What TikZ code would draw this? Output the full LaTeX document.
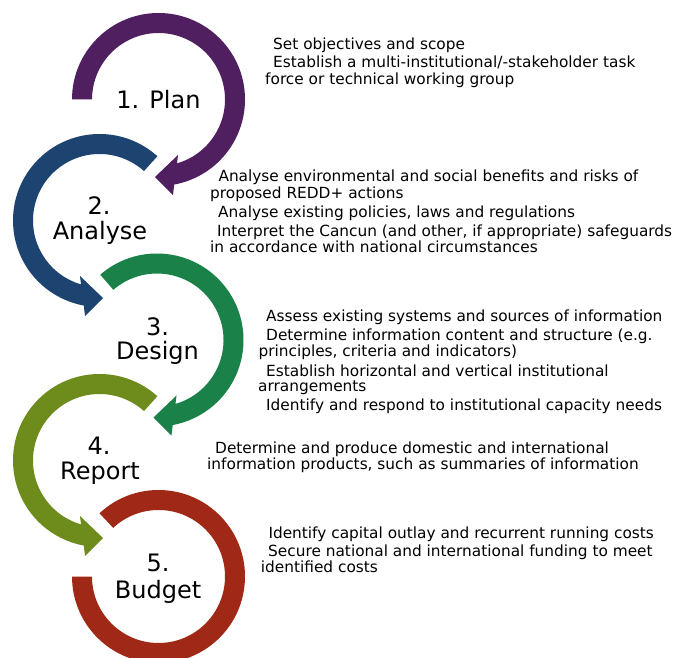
\documentclass[tikz,border=0pt]{standalone}
\usepackage{fontspec}
\setmainfont{DejaVu Sans}
\definecolor{cplan}{HTML}{4F1F60}
\definecolor{canal}{HTML}{1D4370}
\definecolor{cdes}{HTML}{1A8249}
\definecolor{crep}{HTML}{6E8C1C}
\definecolor{cbud}{HTML}{A02816}
\begin{document}
\begin{tikzpicture}[x=1pt,y=1pt,
  body/.style={anchor=base west,inner sep=0pt,font=\fontsize{15.35}{17}\selectfont},
  steplabel/.style={anchor=base,inner sep=0pt,font=\fontsize{24}{26}\selectfont}]
\useasboundingbox (0,0) rectangle (677,657);
\clip (0,0) rectangle (677,657);
\fill[white] (0,0) rectangle (677,657);
% ring 1 (clockwise)
\fill[cplan,shift={(158.5,557.5)}] (180:86.5) arc[start angle=180,end angle=-79.5,radius=86.5]
  -- (-81.4:96.6) -- (-92.6:77.6) -- (-70.6:58.8) -- (-73.9:66.5)
  arc[start angle=-73.9,end angle=180,radius=66.5] -- cycle;
% ring 2 (counter-clockwise)
\fill[canal,shift={(99.5,436.5)}] (48:86.5) arc[start angle=48,end angle=259.5,radius=86.5]
  -- (261.4:96.6) -- (272.6:77.6) -- (250.6:58.8) -- (253.9:66.5)
  arc[start angle=253.9,end angle=48,radius=66.5] -- cycle;
% ring 3 (clockwise)
\fill[cdes,shift={(157,317)}] (131:86.5) arc[start angle=131,end angle=-79.5,radius=86.5]
  -- (-81.4:96.6) -- (-92.6:77.6) -- (-70.6:58.8) -- (-73.9:66.5)
  arc[start angle=-73.9,end angle=131,radius=66.5] -- cycle;
% ring 4 (counter-clockwise)
\fill[crep,shift={(99.5,196.5)}] (48:86.5) arc[start angle=48,end angle=259.5,radius=86.5]
  -- (261.4:96.6) -- (272.6:77.6) -- (250.6:58.8) -- (253.9:66.5)
  arc[start angle=253.9,end angle=48,radius=66.5] -- cycle;
% ring 5
\fill[cbud,shift={(158.5,80.5)}] (133:86.5) arc[start angle=133,end angle=-180,radius=86.5]
  -- (180:66.5) arc[start angle=-180,end angle=133,radius=66.5] -- cycle;
% step labels
\node[steplabel] (l1) at (158.5,548.7) {1. Plan};
\node[steplabel] (l2a) at (99,442) {2.};
\node[steplabel] (l2b) at (100,417) {Analyse};
\node[steplabel] (l3a) at (157.5,322) {3.};
\node[steplabel] (l3b) at (157.5,297.7) {Design};
\node[steplabel] (l4a) at (99,203) {4.};
\node[steplabel] (l4b) at (100,177.7) {Report};
\node[steplabel] (l5a) at (158,85.3) {5.};
\node[steplabel] (l5b) at (158,58.7) {Budget};
% texts
\node[body] (t1a) at (273,607.7) {Set objectives and scope};
\node[body] (t1b) at (273,589.3) {Establish a multi-institutional/-stakeholder task};
\node[body] (t1c) at (265,572.7) {force or technical working group};
\node[body] (t2a) at (218.3,475.3) {Analyse environmental and social benefits and risks of};
\node[body] (t2b) at (210,458.7) {proposed REDD+ actions};
\node[body] (t2c) at (218,439.3) {Analyse existing policies, laws and regulations};
\node[body] (t2d) at (217,420.3) {Interpret the Cancun (and other, if appropriate) safeguards};
\node[body] (t2e) at (210,404.3) {in accordance with national circumstances};
\node[body] (t3a) at (266,335.3) {Assess existing systems and sources of information};
\node[body] (t3b) at (266,316.3) {Determine information content and structure (e.g.};
\node[body] (t3c) at (258.3,300.3) {principles, criteria and indicators)};
\node[body] (t3d) at (266,281) {Establish horizontal and vertical institutional};
\node[body] (t3e) at (258,265.3) {arrangements};
\node[body] (t3f) at (266,246.3) {Identify and respond to institutional capacity needs};
\node[body] (t4a) at (215,203.7) {Determine and produce domestic and international};
\node[body] (t4b) at (207,187.7) {information products, such as summaries of information};
\node[body] (t5a) at (268.3,118.7) {Identify capital outlay and recurrent running costs};
\node[body] (t5b) at (268,100.3) {Secure national and international funding to meet};
\node[body] (t5c) at (260.7,84.3) {identified costs};
\end{tikzpicture}
\end{document}
